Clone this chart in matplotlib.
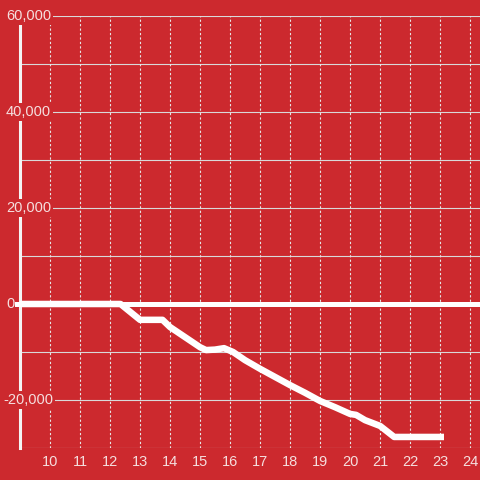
import matplotlib.pyplot as plt
import matplotlib.transforms as mtransforms

# values
x_vals = [9, 12.35, 13.0, 13.75, 14.0, 14.5, 15.0, 15.2, 15.5, 15.8, 16.1, 16.5, 17.0, 17.5,
          18.0, 18.5, 19.0, 19.5, 20.0, 20.2, 20.5, 21.0, 21.47, 23.13]
y_vals = [0, 0, -3300, -3300, -4800, -6900, -9000, -9600, -9500, -9200, -10000, -11700, -13500, -15200,
          -16900, -18500, -20200, -21500, -22900, -23100, -24200, -25400, -27700, -27700]
x_ticks = list(range(10, 25))
y_ticks = [60000, 40000, 20000, 0, -20000]

bg = '#cc292e'
plt.rcParams['font.family'] = ['Liberation Sans', 'DejaVu Sans']

fig = plt.figure(figsize=(4.8, 4.8), dpi=100, facecolor=bg)
ax = fig.add_axes([20 / 480, 32 / 480, 460 / 480, 432 / 480])
ax.set_facecolor(bg)
ax.set_xlim(9, 24.33)
ax.set_ylim(-30000, 60000)

# grid
for v in range(-30000, 60001, 10000):
    ax.axhline(v, color='#d9d9d9', lw=0.8, zorder=1)
for t in x_ticks:
    ax.axvline(t, color='#e6e6e6', lw=0.8, ls=(0, (2, 2)), zorder=1)
ax.plot([8.9, 24.4], [0, 0], color='white', lw=3.6, zorder=6, clip_on=False)

ax.plot(x_vals, y_vals, color='white', lw=4.7, solid_joinstyle='round', solid_capstyle='butt', zorder=7)

for s in ['top', 'right', 'bottom']:
    ax.spines[s].set_visible(False)
ax.spines['left'].set_color('#f4f4f4')
ax.spines['left'].set_linewidth(2.2)

ax.set_xticks(x_ticks)
ax.set_xticklabels([str(t) for t in x_ticks])
ax.tick_params(axis='x', length=0, colors='#f5dede', labelsize=10.5, pad=5)
ax.set_yticks([])

trans = mtransforms.blended_transform_factory(fig.transFigure, ax.transData)
for v in y_ticks:
    xpos = 3 if v < 0 else 6
    ax.text(xpos / 480, v, f'{v:,}', ha='left', va='center', color='#f5dede', fontsize=10.5,
            transform=trans, zorder=5, clip_on=False,
            bbox=dict(facecolor=bg, edgecolor='none', pad=1.5))

fig.savefig('out.png', dpi=100, facecolor=bg)
